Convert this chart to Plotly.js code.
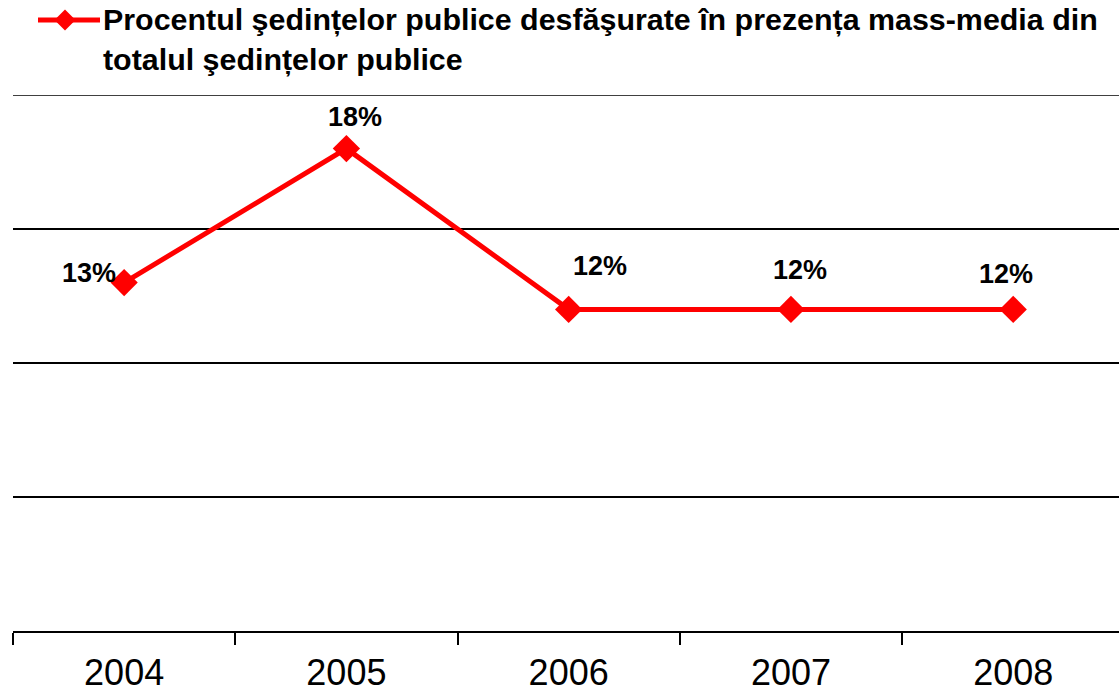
<!DOCTYPE html>
<html>
<head>
<meta charset="utf-8">
<script src="https://cdn.plot.ly/plotly-3.0.1.min.js"></script>
<style>html,body{margin:0;padding:0;background:#fff;}#chart{width:1119px;height:697px;}</style>
</head>
<body>
<div id="chart"></div>
<script>
const years = ["2004", "2005", "2006", "2007", "2008"];
const percents = [13, 18, 12, 12, 12];
const seriesName = "Procentul şedin\u021Belor publice desfăşurate în prezen\u021Ba mass-media din<br>totalul şedin\u021Belor publice";

// label pixel offsets (styling only)
const labelShiftX = [-35, 9, 31, 9, -7];
const labelShiftY = [10, 32, 43, 39, 35];

const FONT = "Liberation Sans, Arial, sans-serif";
const RED = "#FF0000";

const trace = {
  x: years,
  y: percents,
  type: "scatter",
  mode: "lines+markers",
  line: {color: RED, width: 5},
  marker: {symbol: "diamond", size: 21, color: RED},
  cliponaxis: false,
  showlegend: false,
  hoverinfo: "skip"
};

const annotations = years.map((yr, i) => ({
  x: i, y: percents[i], xref: "x", yref: "y",
  text: "<b>" + percents[i] + "%</b>",
  showarrow: false,
  xanchor: "center", yanchor: "middle",
  xshift: labelShiftX[i], yshift: labelShiftY[i],
  font: {family: FONT, size: 27, color: "#000"}
}));

// legend text
const L = 13, T = 95, W = 1106, H = 536;
const px = v => (v - L) / W;
const py = v => (T + H - v) / H;
annotations.push({
  xref: "paper", yref: "paper",
  x: px(101), y: py(0),
  xanchor: "left", yanchor: "top",
  align: "left",
  showarrow: false,
  text: "<b>" + seriesName + "</b>",
  font: {family: FONT, size: 30.4, color: "#000"}
});

const cx = px(65), cy = py(20);
const dx = 10.5 / W, dy = 10.5 / H;
const shapes = [
  {type: "line", xref: "paper", yref: "paper", x0: px(38), x1: px(100), y0: cy, y1: cy,
   line: {color: RED, width: 5}},
  {type: "path", xref: "paper", yref: "paper",
   path: `M ${cx - dx} ${cy} L ${cx} ${cy + dy} L ${cx + dx} ${cy} L ${cx} ${cy - dy} Z`,
   fillcolor: RED, line: {color: RED, width: 0}},
  {type: "line", xref: "paper", yref: "y", x0: 0, x1: 1, y0: 20, y1: 20,
   line: {color: "#000", width: 1.5}, layer: "below"}
];

const layout = {
  width: 1119, height: 697,
  margin: {l: L, r: 0, t: T, b: 66, pad: 0},
  paper_bgcolor: "#fff", plot_bgcolor: "#fff",
  showlegend: false,
  xaxis: {
    type: "category",
    range: [-0.5, 4.476],
    tickson: "boundaries",
    ticks: "outside", ticklen: 12, tickwidth: 2, tickcolor: "#000",
    ticklabelstandoff: 9,
    showline: true, linecolor: "#000", linewidth: 2,
    showgrid: false, zeroline: false,
    tickfont: {family: FONT, size: 36, color: "#000"},
    fixedrange: true
  },
  yaxis: {
    range: [0, 20],
    dtick: 5,
    showticklabels: false,
    showgrid: true, gridcolor: "#000", gridwidth: 1.5,
    zeroline: false, showline: false, ticks: "",
    fixedrange: true
  },
  annotations: annotations,
  shapes: shapes
};

Plotly.newPlot("chart", [trace], layout, {displayModeBar: false, staticPlot: true});
</script>
</body>
</html>
